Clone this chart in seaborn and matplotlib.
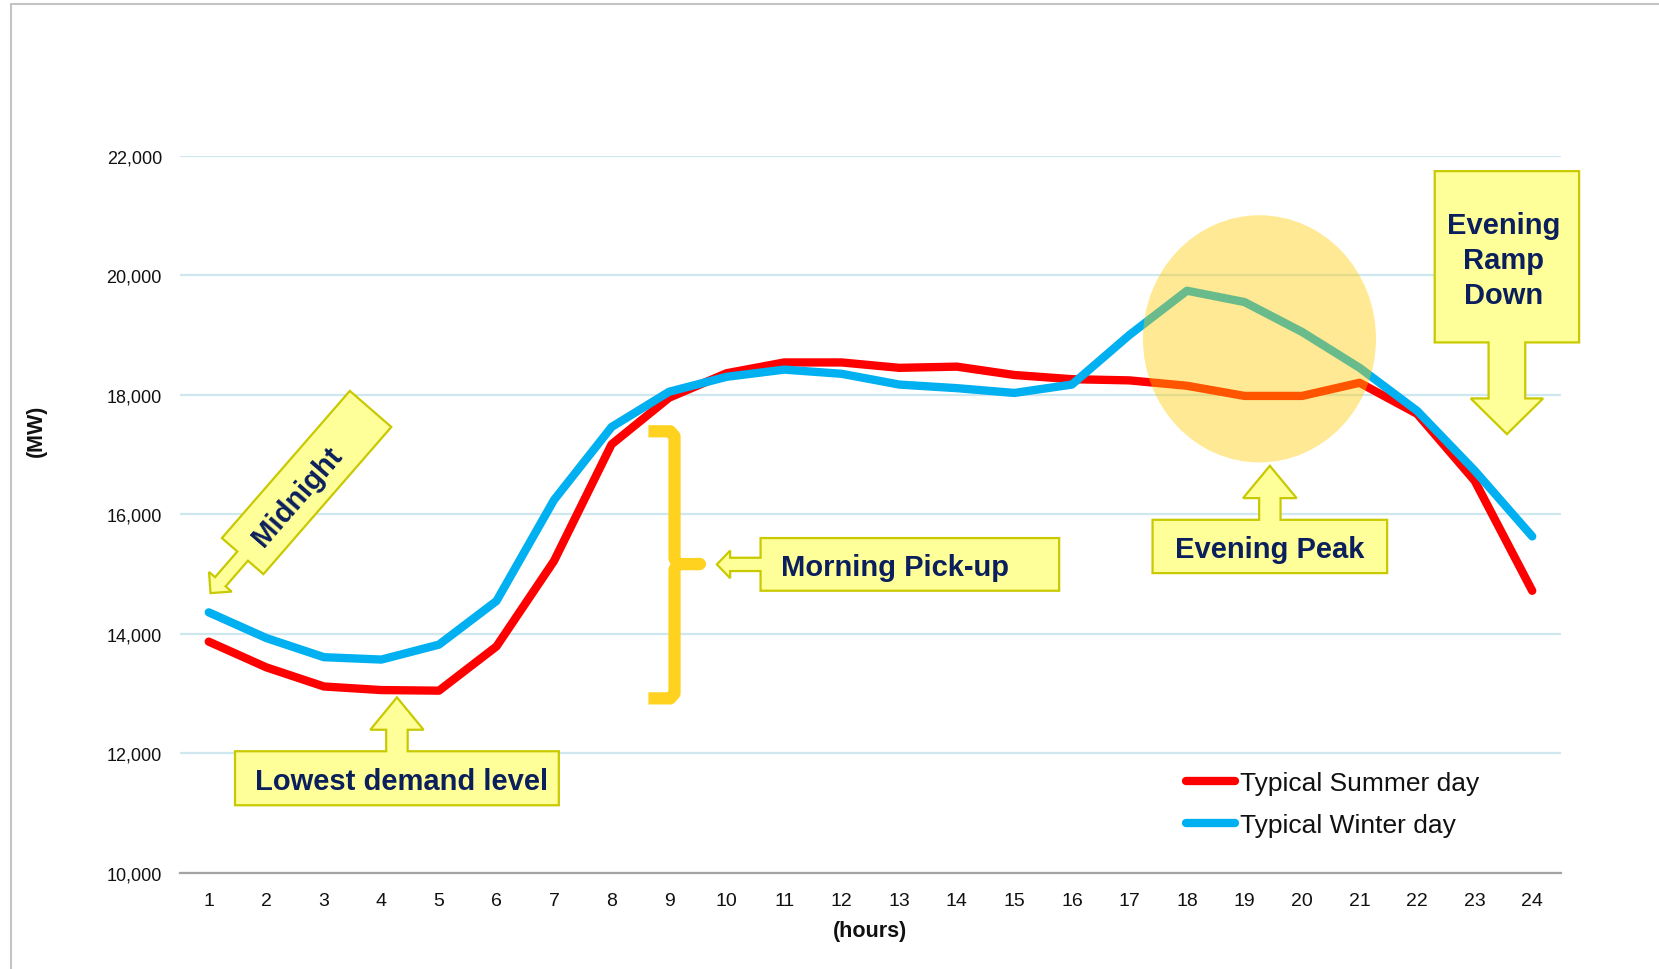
import matplotlib
matplotlib.use("Agg")
import numpy as np
import pandas as pd
import matplotlib.pyplot as plt
import seaborn as sns
from matplotlib.patches import Polygon, Ellipse
from matplotlib.lines import Line2D
from matplotlib.transforms import Affine2D
from matplotlib.ticker import FuncFormatter

# ---- data -------------------------------------------------------------
hours = list(range(1, 25))
summer_mw = [13870, 13440, 13120, 13060, 13050, 13790, 15220, 17170, 17950, 18360, 18540, 18540,
             18450, 18470, 18330, 18260, 18240, 18150, 17980, 17980, 18200, 17680, 16560, 14720]
winter_mw = [14360, 13930, 13610, 13570, 13820, 14550, 16240, 17460, 18050, 18300, 18420, 18350,
             18170, 18110, 18030, 18170, 19000, 19740, 19550, 19050, 18450, 17730, 16730, 15630]
series_names = ["Typical Summer day", "Typical Winter day"]
y_ticks = [10000, 12000, 14000, 16000, 18000, 20000, 22000]

# ---- style ------------------------------------------------------------
W, H = 1659, 970
sns.set_theme(style="white")
plt.rcParams["font.family"] = ["Liberation Sans", "DejaVu Sans"]

NAVY = "#0B1F5C"
CALLOUT_FILL = "#FFFF99"
CALLOUT_EDGE = "#C9C900"
palette = {series_names[0]: "#FF0000", series_names[1]: "#00B0F0"}

fig = plt.figure(figsize=(W / 100, H / 100), dpi=100)
fig.patch.set_facecolor("white")
ax = fig.add_axes([180 / W, 1 - 874 / H, 1381 / W, (874 - 156.6) / H])

df = pd.DataFrame({
    "hour": hours * 2,
    "MW": summer_mw + winter_mw,
    "series": [series_names[0]] * len(hours) + [series_names[1]] * len(hours),
})
sns.lineplot(data=df, x="hour", y="MW", hue="series", hue_order=series_names,
             palette=palette, linewidth=6, solid_capstyle="round",
             solid_joinstyle="round", legend=False, ax=ax, zorder=3)

ax.set_xlim(0.5, 24.5)
ax.set_ylim(10000, 22000)
ax.set_xticks(hours)
ax.set_xticklabels([str(h) for h in hours])
ax.set_yticks(y_ticks)
ax.yaxis.set_major_formatter(FuncFormatter(lambda v, p: f"{int(v):,}"))
ax.tick_params(axis="both", length=0, labelcolor="#111111")
ax.tick_params(axis="y", pad=13, labelsize=13)
ax.tick_params(axis="x", pad=14, labelsize=14)
ax.grid(axis="y", color="#CFE7EF", linewidth=1.6)
ax.grid(axis="x", visible=False)
ax.set_axisbelow(True)
for side in ["top", "right", "left"]:
    ax.spines[side].set_visible(False)
ax.spines["bottom"].set_color("#A3A3A3")
ax.spines["bottom"].set_linewidth(1.6)

ax.set_xlabel("(hours)", fontsize=15.5, fontweight="bold", color="#111111")
ax.set_ylabel("(MW)", fontsize=15.5, fontweight="bold", color="#111111")
ax.xaxis.label.set_verticalalignment("center")
ax.yaxis.label.set_verticalalignment("center")
ax.xaxis.set_label_coords(0.5, -0.0808)
ax.yaxis.set_label_coords(-0.1038, 0.6175)

# legend
handles = [Line2D([], [], color=palette[n], lw=6, solid_capstyle="round") for n in series_names]
ax.legend(handles, series_names, loc="center left", bbox_to_anchor=(0.7285, 0.0960),
          frameon=False, fontsize=19, handlelength=1.86, handletextpad=0.2,
          labelspacing=0.66, borderpad=0, borderaxespad=0, labelcolor="#111111")

# highlight of the winter evening peak
ax.add_patch(Ellipse((19.26, 18935), 4.05, 4135, facecolor="#FFCC00", alpha=0.42,
                     edgecolor="none", zorder=5))

# brace marking the morning ramp
BRACE = "#FFD21F"
bx, btop, bbot, bmid = 9.094, 17388, 12921, 15167
ax.plot([8.64, 9.02, bx, bx, bx + 0.06, 9.535],
        [btop, btop, btop - 80, bmid + 90, bmid, bmid],
        color=BRACE, lw=8.8, solid_joinstyle="round", solid_capstyle="butt", zorder=4)
ax.plot([bx + 0.06, bx, bx, 9.02, 8.64],
        [bmid, bmid - 90, bbot + 80, bbot, bbot],
        color=BRACE, lw=8.8, solid_joinstyle="round", solid_capstyle="butt", zorder=4)
ax.plot([9.45, 9.535], [bmid, bmid], color=BRACE, lw=8.8, solid_capstyle="round", zorder=4)

# ---- callouts (drawn in pixel space, anchored on data points) --------
img_tr = Affine2D().scale(1, -1).translate(0, H)


def to_img(h, v):
    x, y = ax.transData.transform((h, v))
    return x, H - y


def callout(tip_data, u, head_len, head_w, neck_len, neck_w, box_len, box_w):
    tx, ty = to_img(*tip_data)
    ux, uy = u
    n = np.hypot(ux, uy)
    ux, uy = ux / n, uy / n
    vx, vy = -uy, ux

    def P(a, b):
        return (tx + a * ux + b * vx, ty + a * uy + b * vy)

    a1 = head_len
    a2 = head_len + neck_len
    a3 = a2 + box_len
    pts = [P(0, 0), P(a1, head_w / 2), P(a1, neck_w / 2), P(a2, neck_w / 2),
           P(a2, box_w / 2), P(a3, box_w / 2), P(a3, -box_w / 2), P(a2, -box_w / 2),
           P(a2, -neck_w / 2), P(a1, -neck_w / 2), P(a1, -head_w / 2)]
    fig.add_artist(Polygon(pts, closed=True, facecolor=CALLOUT_FILL, edgecolor=CALLOUT_EDGE,
                           linewidth=1.6, joinstyle="miter", transform=img_tr,
                           clip_on=False, zorder=6))
    center = P(a2 + box_len / 2, 0)
    return center, (ux, uy)


def callout_text(xy, text, rotation=0, size=21, spacing=1.2):
    fig.text(xy[0], xy[1], text, transform=img_tr, ha="center", va="center",
             fontsize=size, fontweight="bold", color=NAVY, rotation=rotation,
             multialignment="center", linespacing=spacing, zorder=7)


# Midnight
ang = np.deg2rad(49)
c, (ux, uy) = callout((1.03, 14682), (np.cos(ang), -np.sin(ang)), 15, 30, 34, 14, 195, 55)
callout_text((c[0] - 16 * ux + 1, c[1] - 16 * uy + 1), "Midnight", rotation=49)

# Lowest demand level
c, _ = callout((4.27, 12938), (0, 1), 32.4, 53.2, 21.5, 21.5, 54, 323.8)
callout_text((c[0] + 5, c[1] + 3), "Lowest demand level")

# Morning Pick-up
c, _ = callout((9.83, 15162), (1, 0), 13.3, 27.6, 30.4, 13.3, 298.6, 52.7)
callout_text((c[0] - 14.5, c[1] + 3), "Morning Pick-up")

# Evening Peak
c, _ = callout((19.44, 16811), (0, 1), 32.3, 53.5, 21.7, 21.4, 53.3, 234.6)
callout_text((c[0], c[1] + 3), "Evening Peak")

# Evening Ramp Down
c, _ = callout((23.56, 17341), (0, -1), 35.7, 72.4, 56, 36.7, 171.3, 144.4)
callout_text((c[0] - 3, c[1] + 3), "Evening\nRamp\nDown", spacing=1.32)

# ---- outer frame -----------------------------------------------------
FRAME = "#C4C4C4"
fig.add_artist(Line2D([10.6, 10.6], [H, 5.3], transform=img_tr, color=FRAME, lw=1.5))
fig.add_artist(Line2D([10.6, W], [5.3, 5.3], transform=img_tr, color=FRAME, lw=1.5))

fig.savefig("out.png", dpi=100, facecolor="white")
